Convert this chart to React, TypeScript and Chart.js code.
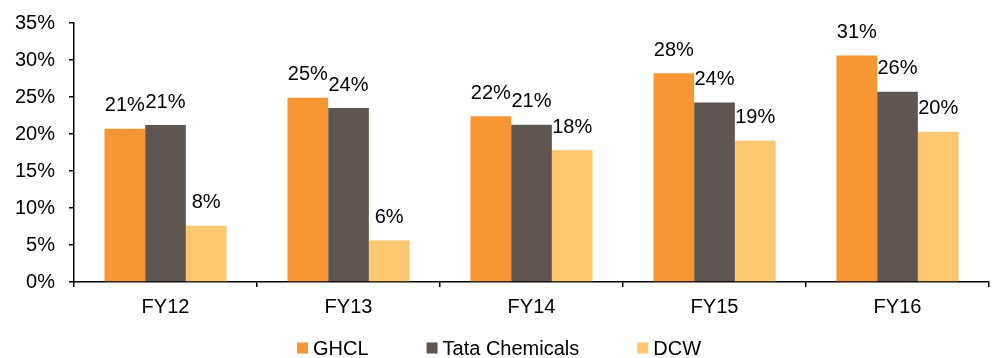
import React, { useEffect, useRef } from "react";
import { Chart, registerables } from "chart.js";

Chart.register(...registerables);

const categories = ["FY12", "FY13", "FY14", "FY15", "FY16"];
const ghcl = [20.7, 24.9, 22.4, 28.2, 30.6];
const tata = [21.2, 23.5, 21.25, 24.25, 25.7];
const dcw = [7.6, 5.6, 17.8, 19.1, 20.3];
const seriesNames = ["GHCL", "Tata Chemicals", "DCW"];
const seriesColors = ["#F79633", "#5F5652", "#FEC66E"];
const yTicks = [0, 5, 10, 15, 20, 25, 30, 35];

const FONT = "'Liberation Sans', Arial, sans-serif";
const FS = 20;

const labelPlugin = {
  id: "barLabels",
  afterDatasetsDraw(chart: any) {
    const ctx = chart.ctx;
    ctx.save();
    ctx.font = `${FS}px ${FONT}`;
    ctx.fillStyle = "#000";
    ctx.textAlign = "center";
    ctx.textBaseline = "middle";
    chart.data.datasets.forEach((ds: any, di: number) => {
      const meta = chart.getDatasetMeta(di);
      meta.data.forEach((el: any, i: number) => {
        const v = ds.data[i];
        ctx.fillText(Math.round(v) + "%", el.x, el.y - 23);
      });
    });
    ctx.restore();
  },
};

const legendPlugin = {
  id: "customLegend",
  afterDraw(chart: any) {
    const ctx = chart.ctx;
    ctx.save();
    ctx.font = `${FS}px ${FONT}`;
    ctx.textBaseline = "middle";
    ctx.textAlign = "left";
    const box = 11;
    const gapText = 5;
    const gapItem = 58;
    const items = chart.data.datasets.map((ds: any) => ({
      text: ds.label,
      color: ds.backgroundColor,
      w: box + gapText + ctx.measureText(ds.label).width,
    }));
    const total = items.reduce((s: number, it: any) => s + it.w, 0) + gapItem * (items.length - 1);
    let x = (chart.width - total) / 2;
    const y = 348;
    items.forEach((it: any) => {
      ctx.fillStyle = it.color;
      ctx.fillRect(x, y - box / 2, box, box);
      ctx.fillStyle = "#000";
      ctx.fillText(it.text, x + box + gapText, y + 1);
      x += it.w + gapItem;
    });
    ctx.restore();
  },
};

export default function App() {
  const ref = useRef<HTMLCanvasElement>(null);
  useEffect(() => {
    document.body.style.margin = "0";
    const seriesData = [ghcl, tata, dcw];
    const chart = new Chart(ref.current!, {
      type: "bar",
      data: {
        labels: categories,
        datasets: seriesNames.map((n, i) => ({
          label: n,
          data: seriesData[i],
          backgroundColor: seriesColors[i],
          borderWidth: 0,
          categoryPercentage: 0.667,
          barPercentage: 1,
        })),
      },
      options: {
        animation: false,
        responsive: false,
        layout: { padding: { left: 0, right: 9, top: 23, bottom: 31 } },
        plugins: {
          legend: { display: false },
          tooltip: { enabled: false },
        },
        scales: {
          x: {
            grid: {
              offset: true,
              drawOnChartArea: false,
              drawTicks: true,
              tickLength: 5,
              color: "#000",
              lineWidth: 1.5,
            },
            border: { color: "#000", width: 1.5 },
            ticks: {
              color: "#000",
              font: { family: FONT, size: FS },
              padding: 8,
            },
          },
          y: {
            min: 0,
            max: 35,
            afterBuildTicks(scale: any) {
              scale.ticks = yTicks.map((v) => ({ value: v }));
            },
            afterFit(scale: any) {
              scale.width = 74;
              scale.paddingTop = 0;
              scale.paddingBottom = 0;
            },
            grid: {
              drawOnChartArea: false,
              drawTicks: true,
              tickLength: 5,
              color: "#000",
              lineWidth: 1.5,
            },
            border: { color: "#000", width: 1.5 },
            ticks: {
              color: "#000",
              font: { family: FONT, size: FS },
              padding: 14,
              callback: (v: any) => v + "%",
            },
          },
        },
      },
      plugins: [labelPlugin, legendPlugin],
    });
    return () => chart.destroy();
  }, []);
  return (
    <div style={{ width: 998, height: 358 }}>
      <canvas ref={ref} width={998} height={358} />
    </div>
  );
}
